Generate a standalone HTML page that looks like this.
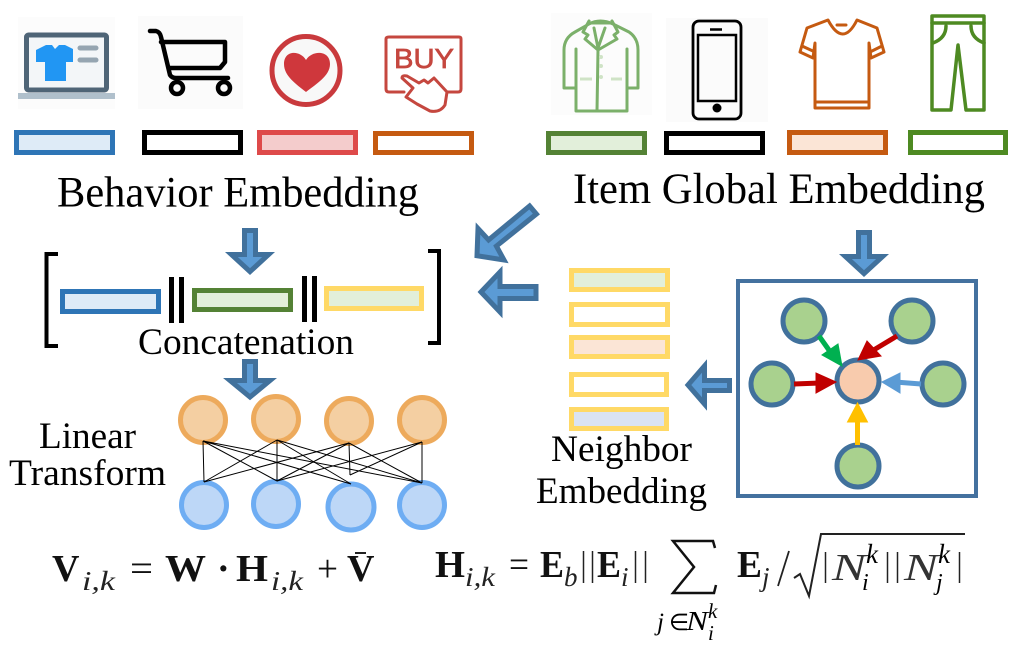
<!DOCTYPE html>
<html><head><meta charset="utf-8"><style>
html,body{margin:0;padding:0;background:#fff;width:1013px;height:649px;overflow:hidden}
svg{display:block}
text{font-family:"Liberation Serif",serif;fill:#000}
.b{font-weight:bold;font-size:38px;fill:#111}
.s{font-style:italic;font-size:27px;fill:#222}
.r{font-size:38px;fill:#111}
.n{font-size:38px;font-style:italic;fill:#333}
</style></head><body>
<svg width="1013" height="649" viewBox="0 0 1013 649" xmlns="http://www.w3.org/2000/svg">
<rect x="18" y="17" width="97" height="92" fill="#fcfcfc"/>
<rect x="138" y="16" width="105" height="93" fill="#fbfbfb"/>
<rect x="551" y="13" width="101" height="102" fill="#fcfcfc"/>
<rect x="666" y="18" width="102" height="104" fill="#fbfbfb"/>

<!-- laptop -->
<rect x="26.500" y="35" width="80" height="55" rx="2" fill="#f3f6f8" stroke="#4f6577" stroke-width="5"/>
<rect x="18" y="93" width="97" height="6" fill="#b0c0cc"/>
<path d="M36 50L46 45H52L55 49L59 45H65L73 49V62H66V81H45V62H36Z" fill="#2196f3"/>
<path d="M80 48H96M80 60H96" stroke="#95a5b1" stroke-width="5" stroke-linecap="round"/>
<!-- cart -->
<g fill="none" stroke="#000" stroke-width="4.500" stroke-linejoin="round" stroke-linecap="round">
<path d="M150 31H156Q160 32 161 37L170 75Q172 78 176 78H228"/>
<path d="M161 42H225V62L220 68H169"/>
<circle cx="177" cy="88" r="6"/><circle cx="224" cy="88" r="6"/>
</g>
<!-- heart -->
<circle cx="306" cy="70.500" r="34" fill="#f8f8f8" stroke="#c93a3d" stroke-width="5"/>
<path d="M306 92C296 84 284 76 284 64C284 50 300 50 306 60C312 50 330 50 330 64C330 76 316 84 306 92Z" fill="#cf373c"/>
<!-- buy -->
<g fill="none" stroke="#c5473f" stroke-width="3" stroke-linejoin="round" stroke-linecap="round">
<path d="M404 92H389Q386 92 386 89V39Q386 37 389 37H459Q461 37 461 39V89Q461 92 458 92H447"/>
<path d="M402 78L413 88L406 97L417 104L430 111Q440 113 445 105L447 92L434 78L428 83L424 80L419 83L407 76Q402 75 402 78Z"/>
</g>
<text x="394" y="68" style="font-family:'Liberation Sans',sans-serif;font-size:28px;fill:#c5473f;stroke:#c5473f;stroke-width:.7" textLength="60" lengthAdjust="spacingAndGlyphs">BUY</text>

<!-- coat -->
<g fill="none" stroke="#7bb06a" stroke-width="3" stroke-linejoin="round" stroke-linecap="round">
<path d="M576 49V111H627V49M575 88H564V50Q564 38 575 32L589 24Q600 18 613 24L629 32Q638 38 638 50V88H627"/>
<path d="M589 21L583 32L588 35L585 39L598 50L597 111M612 21L618 32L614 35L617 39L598 50"/>
<path d="M590 23H612M594 28L598 48L605 28"/>
</g>
<path d="M580 79H592M611 79H622" stroke="#cfe3c6" stroke-width="3"/>
<circle cx="601" cy="57" r="2" fill="#cfe3c6"/><circle cx="601" cy="66" r="2" fill="#cfe3c6"/><circle cx="601" cy="77" r="2" fill="#cfe3c6"/>
<!-- phone -->
<g fill="none" stroke="#000">
<rect x="693" y="21" width="48" height="98" rx="6" stroke-width="2.800"/>
<rect x="698" y="35" width="38" height="66" stroke-width="2.500"/>
<path d="M710 29.500H722" stroke-width="2.500"/>
</g>
<circle cx="717" cy="108" r="4.500" fill="#000"/>
<!-- tee -->
<g fill="none" stroke="#c55a11" stroke-width="3" stroke-linejoin="round" stroke-linecap="round">
<path d="M828 20L807 28L800 52L813 58L815 43V108H869V43L871 58L884 52L877 28L857 20Q843 48 828 20Z"/>
<path d="M802 46L815 52M882 46L870 52M815 102H869M837 25H846"/>
</g>
<!-- pants -->
<g fill="none" stroke="#4e8a22" stroke-width="3.500" stroke-linejoin="round" stroke-linecap="round">
<path d="M932 16H984V110H966L958 45L951 110H932Z"/>
<path d="M932 23H984M946 26Q946 38 933 43M971 26Q971 38 984 43"/>
</g>

<!-- top rects -->
<g fill="none" stroke-width="5">
<rect x="16.500" y="132.500" width="96" height="20" fill="#deebf7" stroke="#2e75b6"/>
<rect x="144.500" y="132.500" width="96" height="20" fill="#fff" stroke="#000"/>
<rect x="259.500" y="132.500" width="96" height="20" fill="#f4cccc" stroke="#de4a4a"/>
<rect x="375.500" y="133.500" width="96" height="19" fill="#fff" stroke="#c55a11"/>
<rect x="548.500" y="133.500" width="96" height="19" fill="#e2efda" stroke="#548235"/>
<rect x="666.500" y="133.500" width="96" height="19" fill="#fff" stroke="#000"/>
<rect x="789.500" y="132.500" width="96" height="20" fill="#fbe5d6" stroke="#c55a11"/>
<rect x="910.500" y="132.500" width="95" height="20" fill="#fff" stroke="#4e8a22"/>
<rect x="62.500" y="291.500" width="96" height="20" fill="#deebf7" stroke="#2e75b6"/>
<rect x="194.500" y="290.500" width="96" height="19" fill="#e2efda" stroke="#548235"/>
<rect x="326.500" y="288.500" width="95" height="20" fill="#e2efda" stroke="#ffd966"/>
<rect x="571.500" y="270.500" width="96" height="19" fill="#e2efda" stroke="#ffd966"/>
<rect x="571.500" y="304.500" width="96" height="20" fill="#fff" stroke="#ffd966"/>
<rect x="571.500" y="337.500" width="96" height="19" fill="#fbe5d6" stroke="#ffd966"/>
<rect x="571.500" y="374.500" width="95" height="20" fill="#fff" stroke="#ffd966"/>
<rect x="571.500" y="409.500" width="95" height="19" fill="#dae3f3" stroke="#ffd966"/>
</g>

<text x="57" y="206.500" font-size="43" textLength="362" lengthAdjust="spacingAndGlyphs">Behavior Embedding</text>
<text x="573" y="203" font-size="43" textLength="412" lengthAdjust="spacingAndGlyphs">Item Global Embedding</text>
<text x="138" y="354" font-size="37" textLength="216" lengthAdjust="spacingAndGlyphs">Concatenation</text>
<text x="39" y="448" font-size="37" textLength="97" lengthAdjust="spacingAndGlyphs">Linear</text>
<text x="9" y="485" font-size="37" textLength="157" lengthAdjust="spacingAndGlyphs">Transform</text>
<text x="551" y="461" font-size="37" textLength="141" lengthAdjust="spacingAndGlyphs">Neighbor</text>
<text x="536" y="503" font-size="37" textLength="171" lengthAdjust="spacingAndGlyphs">Embedding</text>

<!-- brackets and bars -->
<path d="M58 254H46.500V346H58M428 251H439V343H428" fill="none" stroke="#000" stroke-width="4"/>
<path d="M171.500 277V323M181.500 277V323M304.500 276V322M314.500 276V322" stroke="#000" stroke-width="5"/>

<!-- block arrows -->
<g fill="#5b9bd5" stroke="#41719c" stroke-width="5" stroke-miterlimit="10">
<path d="M244.500 230.500H255.500V254.500H268.600L250 271.600L231.400 254.500H244.500Z"/>
<path d="M244.500 361.500H255.500V380.500H270L250 397L230 380.500H244.500Z"/>
<path d="M858.500 232.500H869.500V256.500H882.600L864 273.600L845.400 256.500H858.500Z"/>
<path d="M729.500 380.500V390.500H704.500V404L688 385L704.500 366V380.500Z"/>
<path d="M481 292L500 272V286.500H536V298.500H500V312Z"/>
<path d="M529.600 206L536.400 214L496.400 246.100L504 260L477 255.700L478 228.500L488.600 239.900Z"/>
</g>

<!-- graph box -->
<rect x="738" y="281" width="238" height="215" fill="none" stroke="#44719f" stroke-width="4"/>
<g stroke="#41719c" stroke-width="5" fill="#a9d18e">
<circle cx="804" cy="321" r="21"/><circle cx="912" cy="321" r="21"/>
<circle cx="772" cy="384" r="21"/><circle cx="943" cy="384" r="21"/>
<circle cx="858" cy="466" r="21"/>
<circle cx="858" cy="381" r="21" fill="#f8cbad"/>
</g>
<path d="M819 336L836 360" stroke="#00b050" stroke-width="5"/><path d="M842 366L822 355L838 344Z" fill="#00b050" stroke="#00b050"/>
<path d="M897 336L872 351" stroke="#c00000" stroke-width="5"/><path d="M858 360L867 341L881 356Z" fill="#c00000" stroke="#c00000"/>
<path d="M794 384L820 383" stroke="#c00000" stroke-width="5"/><path d="M836 382L816 373V393Z" fill="#c00000" stroke="#c00000"/>
<path d="M921 384L895 382" stroke="#5b9bd5" stroke-width="5"/><path d="M882 382L900 373V393Z" fill="#5b9bd5" stroke="#5b9bd5"/>
<path d="M857.500 445V420" stroke="#ffc000" stroke-width="5"/><path d="M857.500 403L847.500 422H867.500Z" fill="#ffc000" stroke="#ffc000"/>

<!-- linear layer -->
<g fill="#f4cfa2" stroke="#edaa5c" stroke-width="5">
<circle cx="203" cy="420" r="22.500"/><circle cx="276" cy="419" r="22.500"/><circle cx="349" cy="421" r="22.500"/><circle cx="422" cy="420" r="22.500"/>
</g>
<g fill="#bdd7f7" stroke="#6eadf3" stroke-width="5">
<circle cx="204" cy="505" r="22.500"/><circle cx="276" cy="504" r="22.500"/><circle cx="351" cy="507" r="23"/><circle cx="422" cy="505" r="22.500"/>
</g>
<g fill="none" stroke="#000" stroke-width="1">
<path d="M203 441L204 482M203 441L277 481M203 441L351 484M203 441L422 483"/>
<path d="M277 440L204 482M277 440V481M277 440L351 484M277 440L422 483"/>
<path d="M349 443L204 482M349 443L277 481M349 443L350 475M349 443L422 483"/>
<path d="M422 442L277 481M422 442L350 475M422 442V483"/>
</g>

<!-- formula left -->
<text class="b" x="52" y="581">V</text>
<text class="s" x="82" y="590" textLength="33" lengthAdjust="spacingAndGlyphs">i,k</text>
<text class="r" x="130" y="581" textLength="23" lengthAdjust="spacingAndGlyphs">=</text>
<text class="b" x="165" y="581" textLength="41" lengthAdjust="spacingAndGlyphs">W</text>
<text class="b" x="217" y="581">·</text>
<text class="b" x="236" y="581" textLength="32" lengthAdjust="spacingAndGlyphs">H</text>
<text class="s" x="271" y="590" textLength="32" lengthAdjust="spacingAndGlyphs">i,k</text>
<text class="r" x="317" y="581" textLength="21" lengthAdjust="spacingAndGlyphs">+</text>
<text class="b" x="347" y="581">V</text>
<path d="M355 553H366" stroke="#222" stroke-width="2"/>

<!-- formula right -->
<text class="b" x="435" y="577" textLength="30" lengthAdjust="spacingAndGlyphs">H</text>
<text class="s" x="465" y="586" textLength="30" lengthAdjust="spacingAndGlyphs">i,k</text>
<text class="r" x="509" y="577" textLength="20" lengthAdjust="spacingAndGlyphs">=</text>
<text class="b" x="540" y="577" textLength="24" lengthAdjust="spacingAndGlyphs">E</text>
<text class="s" x="564" y="586">b</text>
<path d="M583.500 551V583M592.500 551V583M635.500 551V583M645.500 551V583" stroke="#222" stroke-width="1.500"/>
<text class="b" x="597" y="577" textLength="24" lengthAdjust="spacingAndGlyphs">E</text>
<text class="s" x="621" y="586">i</text>
<path d="M715 548L713 541H673L694 567L673 593H714L716 585" fill="none" stroke="#111" stroke-width="2.500"/>
<text x="657" y="630" font-size="25" font-style="italic">j</text>
<text x="669" y="630" font-size="23">∈</text>
<text x="686" y="630" font-size="27" font-style="italic" textLength="22" lengthAdjust="spacingAndGlyphs">N</text>
<text x="708" y="618" font-size="21" font-style="italic">k</text>
<text x="708" y="640" font-size="21" font-style="italic">i</text>
<text class="b" x="737" y="577" textLength="25" lengthAdjust="spacingAndGlyphs">E</text>
<text class="s" x="762" y="586">j</text>
<path d="M789 551L778 586" stroke="#222" stroke-width="1.800"/>
<path d="M794 578L800 574L809 596L821 534H965" fill="none" stroke="#222" stroke-width="2"/>
<path d="M825.500 552V583M887.500 552V583M897.500 552V583M959.500 552V583" stroke="#222" stroke-width="1.500"/>
<text class="n" x="832" y="580" textLength="34" lengthAdjust="spacingAndGlyphs">N</text>
<text x="866" y="563" font-size="27" font-style="italic">k</text>
<text x="862" y="590" font-size="24" font-style="italic">i</text>
<text class="n" x="904" y="580" textLength="34" lengthAdjust="spacingAndGlyphs">N</text>
<text x="938" y="563" font-size="27" font-style="italic">k</text>
<text x="936" y="590" font-size="24" font-style="italic">j</text>
</svg>
</body></html>
